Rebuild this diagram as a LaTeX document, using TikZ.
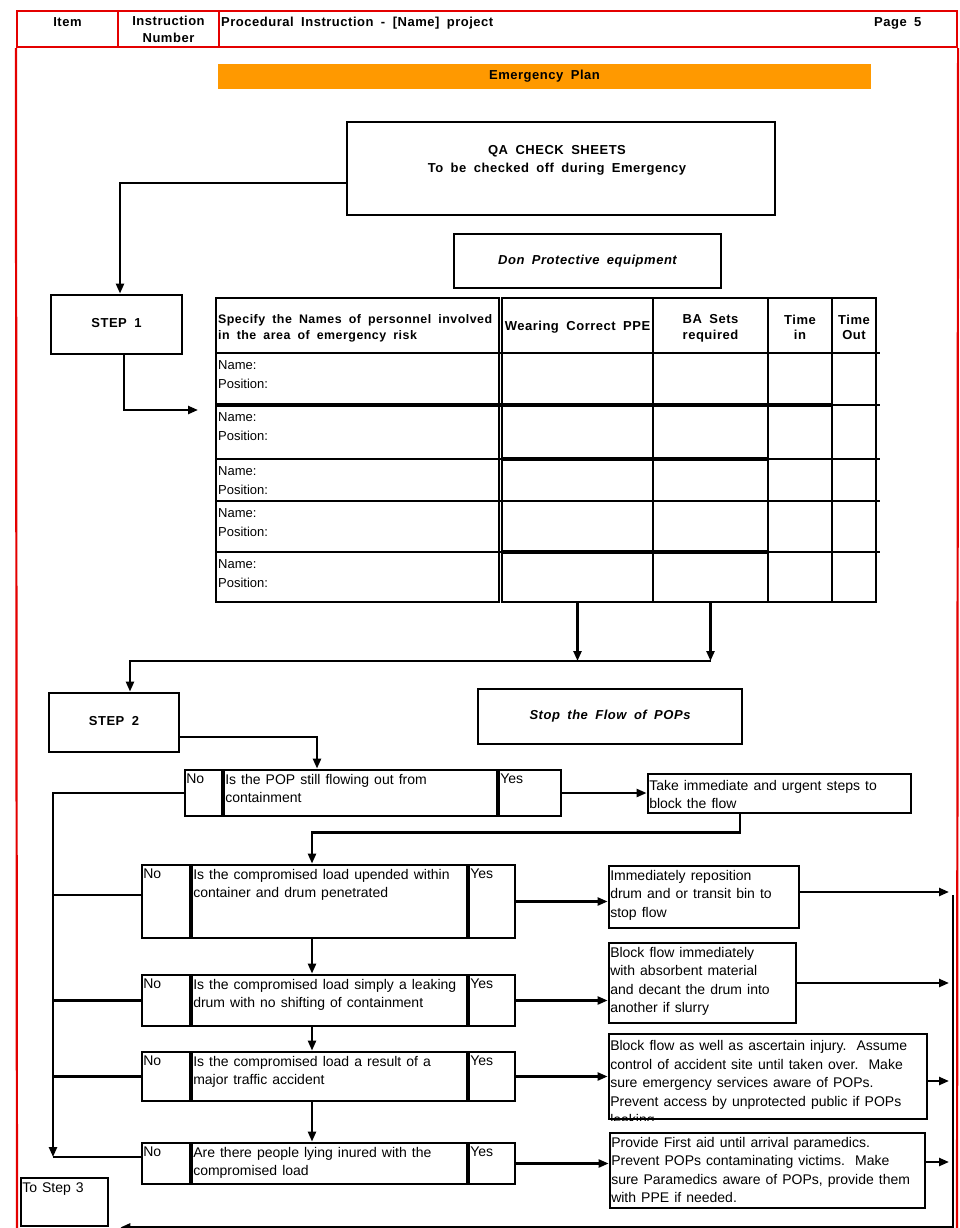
\documentclass[tikz,border=0pt]{standalone}
\usepackage{fontspec}
\setmainfont{Liberation Sans}[WordSpace=1.3]
\newfontfamily\hdfont{Liberation Sans}[LetterSpace=4,WordSpace=1.8]
\usetikzlibrary{arrows.meta}
\definecolor{frame}{RGB}{228,0,0}
\definecolor{bar}{RGB}{255,153,0}

\begin{document}
\begin{tikzpicture}[x=1pt,y=-1pt,line width=2.3pt,>={Triangle[length=10pt,width=8pt]},
    box/.style={draw,line width=2.8pt,inner sep=0pt},
    hcell/.style={draw=frame,line width=2.2pt,inner sep=0pt},
    hd/.style={font=\hdfont\bfseries\fontsize{13}{15.5}\selectfont,inner sep=0pt,align=center,execute at begin node=\strut},
    hdi/.style={hd,font=\hdfont\bfseries\itshape\fontsize{13}{15.5}\selectfont},
    bd/.style={font=\fontsize{14}{18.5}\selectfont,inner sep=1.5pt,yshift=-3pt,align=left,anchor=north west},
    tb/.style={font=\fontsize{13}{19}\selectfont,inner sep=1pt,yshift=-5.5pt,align=left,anchor=north west}]

    \useasboundingbox (0,0) rectangle (960,1228);

    % page frame
    \node [hcell,minimum width=101pt,minimum height=36pt] (hItem) at (67.5,29) {};
    \node [hcell,minimum width=101pt,minimum height=36pt] (hNum) at (168.5,29) {};
    \node [hcell,minimum width=738pt,minimum height=36pt] (hTitle) at (588,29) {};
    \draw [frame,line width=2.2pt] (hItem.south west) -- (17,1232);
    \draw [frame,line width=2.2pt] (hTitle.south east) -- (957,1232);
    \node [hd,anchor=north] (tItem) at (67.5,14.5) {Item};
    \node [hd,anchor=north] (tNum) at (168.5,14.5) {Instruction\\[1.5pt]Number};
    \node [hd,anchor=north west] (tTitle) at (220,14.5) {Procedural Instruction - [Name] project};
    \node [hd,anchor=north west] (tPage) at (873,14.5) {Page 5};

    \node [hd,fill=bar,minimum width=653pt,minimum height=25pt] (plan) at (544.5,76.5) {Emergency Plan};

    % step 1
    \node [box,minimum width=428pt,minimum height=93pt] (qa) at (561,168.5) {};
    \node [hd,anchor=north] (qat) at (557,144) {QA CHECK SHEETS\\[2.5pt]To be checked off during Emergency};
    \node [box,hd,minimum width=131pt,minimum height=59pt] (step1) at (116.5,324.5) {STEP 1};
    \node [box,hdi,minimum width=267pt,minimum height=54pt] (don) at (587.5,261) {Don Protective equipment};

    \node [box,line width=2.3pt,minimum width=283pt,minimum height=304pt] (cName) at (357.5,450) {};
    \node [box,line width=2.3pt,minimum width=151pt,minimum height=304pt] (cPPE) at (577.5,450) {};
    \node [box,line width=2.3pt,minimum width=115pt,minimum height=304pt] (cBA) at (710.5,450) {};
    \node [box,line width=2.3pt,minimum width=64pt,minimum height=304pt] (cIn) at (800,450) {};
    \node [box,line width=2.3pt,minimum width=44pt,minimum height=304pt] (cOut) at (854,450) {};
    \draw (216,353) -- (880,353);
    \draw [line width=4pt] (216,405) -- (832,405);
    \draw (832,405) -- (880,405);
    \draw (216,459) -- (880,459);
    \draw [line width=4pt] (502,459) -- (768,459);
    \draw (216,501) -- (880,501);
    \draw (216,552) -- (880,552);
    \draw [line width=4pt] (502,552) -- (768,552);

    \node [hd,anchor=north west,align=left,font=\hdfont\bfseries\fontsize{12.4}{15.5}\selectfont] (hSpec) at (217,313.6) {Specify the Names of personnel involved\\in the area of emergency risk};
    \node [hd,anchor=north] (hPPE) at (577.5,318.2) {Wearing Correct PPE};
    \node [hd,anchor=north] (hBA) at (710.5,313.6) {BA Sets\\required};
    \node [hd,anchor=north] (hIn) at (800,313.6) {Time\\in};
    \node [hd,anchor=north] (hOut) at (854,313.6) {Time\\Out};
    \node [tb] (who1) at (216,353) {Name:\\Position:};
    \node [tb] (who2) at (216,405) {Name:\\Position:};
    \node [tb] (who3) at (216,459) {Name:\\Position:};
    \node [tb] (who4) at (216,501) {Name:\\Position:};
    \node [tb] (who5) at (216,552) {Name:\\Position:};

    \coordinate (row2in) at (198,410);
    \coordinate (tjoin) at (711,661);
    \draw [->] ([yshift=-14.5pt]qa.west) -| ([xshift=3.5pt]step1.north);
    \draw [->] ([xshift=7.5pt]step1.south) |- (row2in);
    \draw [->] (cPPE.south) -- (cPPE.south |- tjoin);
    \draw [->] (cBA.south) -- (cBA.south |- tjoin);

    % step 2
    \node [box,hd,minimum width=130pt,minimum height=59pt] (step2) at (114,722.5) {STEP 2};
    \node [box,hdi,minimum width=264pt,minimum height=55pt] (stop) at (610,716.5) {Stop the Flow of POPs};
    \draw [->] (tjoin) -| ([xshift=16pt]step2.north);

    \node [box,minimum width=37pt,minimum height=46pt] (n1) at (203.5,793) {};
    \node [box,minimum width=273pt,minimum height=46pt] (q1) at (360.5,793) {};
    \node [box,minimum width=62pt,minimum height=46pt] (y1) at (530,793) {};
    \node [bd] (n1t) at (n1.north west) {No};
    \node [bd] (q1t) at (q1.north west) {Is the POP still flowing out from\\containment};
    \node [bd] (y1t) at (y1.north west) {Yes};
    \node [box,minimum width=263pt,minimum height=39pt] (a1) at (779.5,793.5) {};
    \node [bd] (a1t) at ([yshift=-2pt]a1.north west) {Take immediate and urgent steps to\\block the flow};

    \node [box,minimum width=48pt,minimum height=73pt] (n2) at (166,901.5) {};
    \node [box,minimum width=275pt,minimum height=73pt] (q2) at (329.5,901.5) {};
    \node [box,minimum width=46pt,minimum height=73pt] (y2) at (492,901.5) {};
    \node [bd] (n2t) at (n2.north west) {No};
    \node [bd] (q2t) at (q2.north west) {Is the compromised load upended within\\container  and drum penetrated};
    \node [bd] (y2t) at (y2.north west) {Yes};
    \node [box,minimum width=190pt,minimum height=62pt] (a2) at (704,897) {};
    \node [bd] (a2t) at (a2.north west) {Immediately reposition\\drum and or transit bin to\\stop flow};

    \node [box,minimum width=48pt,minimum height=51pt] (n3) at (166,1000.5) {};
    \node [box,minimum width=275pt,minimum height=51pt] (q3) at (329.5,1000.5) {};
    \node [box,minimum width=46pt,minimum height=51pt] (y3) at (492,1000.5) {};
    \node [bd] (n3t) at (n3.north west) {No};
    \node [bd] (q3t) at (q3.north west) {Is the compromised load simply a leaking\\drum with no shifting of containment};
    \node [bd] (y3t) at (y3.north west) {Yes};
    \node [box,minimum width=187pt,minimum height=80pt] (a3) at (702.5,983) {};
    \node [bd] (a3t) at (a3.north west) {Block flow immediately\\with absorbent material\\and decant the drum into\\another if slurry};

    \node [box,minimum width=48pt,minimum height=49pt] (n4) at (166,1076.5) {};
    \node [box,minimum width=275pt,minimum height=49pt] (q4) at (329.5,1076.5) {};
    \node [box,minimum width=46pt,minimum height=49pt] (y4) at (492,1076.5) {};
    \node [bd] (n4t) at (n4.north west) {No};
    \node [bd] (q4t) at (q4.north west) {Is the compromised load a result of a\\major traffic accident};
    \node [bd] (y4t) at (y4.north west) {Yes};
    \node [box,minimum width=318pt,minimum height=85pt] (a4) at (768,1076.5) {};
    \begin{scope}
        \clip (a4.south west) rectangle (a4.north east);
        \node [bd] (a4t) at ([yshift=-2.5pt]a4.north west) {Block flow as well as ascertain injury.\ \ Assume\\control of accident site until taken over.\ \ Make\\sure emergency services aware of POPs.\\Prevent access by unprotected public if POPs\\leaking};
    \end{scope}

    \node [box,minimum width=48pt,minimum height=41pt] (n5) at (166,1163.5) {};
    \node [box,minimum width=275pt,minimum height=41pt] (q5) at (329.5,1163.5) {};
    \node [box,minimum width=46pt,minimum height=41pt] (y5) at (492,1163.5) {};
    \node [bd] (n5t) at (n5.north west) {No};
    \node [bd] (q5t) at (q5.north west) {Are there people lying inured with the\\compromised load};
    \node [bd] (y5t) at (y5.north west) {Yes};
    \node [box,minimum width=315pt,minimum height=75pt] (a5) at (767.5,1170.5) {};
    \node [bd] (a5t) at (a5.north west) {Provide First aid until arrival paramedics.\\Prevent POPs contaminating victims.\ \ Make\\sure Paramedics aware of POPs, provide them\\with PPE if needed.};

    \node [box,minimum width=87pt,minimum height=48pt] (step3) at (64.5,1202) {};
    \node [bd] (step3t) at (step3.north west) {To Step 3};

    % connectors
    \coordinate (lbus) at (53,1157);
    \coordinate (rbus) at (949,895);
    \draw [->] ([yshift=-14.5pt]step2.east) -| ([xshift=-43.5pt]q1.north);
    \draw [->] (y1.east) -- (y1.east -| a1.west);
    \draw [->] ([xshift=-39.5pt]a1.south) -- ++(0,18) -| ([xshift=-17.5pt]q2.north);
    \draw [->] ([xshift=-17.5pt]q2.south) -- ([xshift=-17.5pt]q2.south |- q3.north);
    \draw [->] ([xshift=-17.5pt]q3.south) -- ([xshift=-17.5pt]q3.south |- q4.north);
    \draw [->] ([xshift=-17.5pt]q4.south) -- ([xshift=-17.5pt]q4.south |- q5.north);
    \draw [->] (y2.east) -- (y2.east -| a2.west);
    \draw [->] (y3.east) -- (y3.east -| a3.west);
    \draw [->] (y4.east) -- (y4.east -| a4.west);
    \draw [->] (y5.east) -- (y5.east -| a5.west);

    \draw [->] (n1.west) -| (lbus);
    \draw ([yshift=6.5pt]n2.west) -- ([yshift=6.5pt]n2.west -| lbus);
    \draw (n3.west) -- (n3.west -| lbus);
    \draw (n4.west) -- (n4.west -| lbus);
    \draw ([yshift=6.5pt]n5.west) -- (lbus);

    \draw [->] ([yshift=5pt]a2.east) -- ([yshift=5pt]a2.east -| rbus);
    \draw [->] (a3.east) -- (a3.east -| rbus);
    \draw [->] ([yshift=-4.5pt]a4.east) -- ([yshift=-4.5pt]a4.east -| rbus);
    \draw [->] ([yshift=8.5pt]a5.east) -- ([yshift=8.5pt]a5.east -| rbus);
    \draw [->] ([xshift=4pt]rbus) |- ([xshift=11pt]step3.south east);

\end{tikzpicture}
\end{document}
